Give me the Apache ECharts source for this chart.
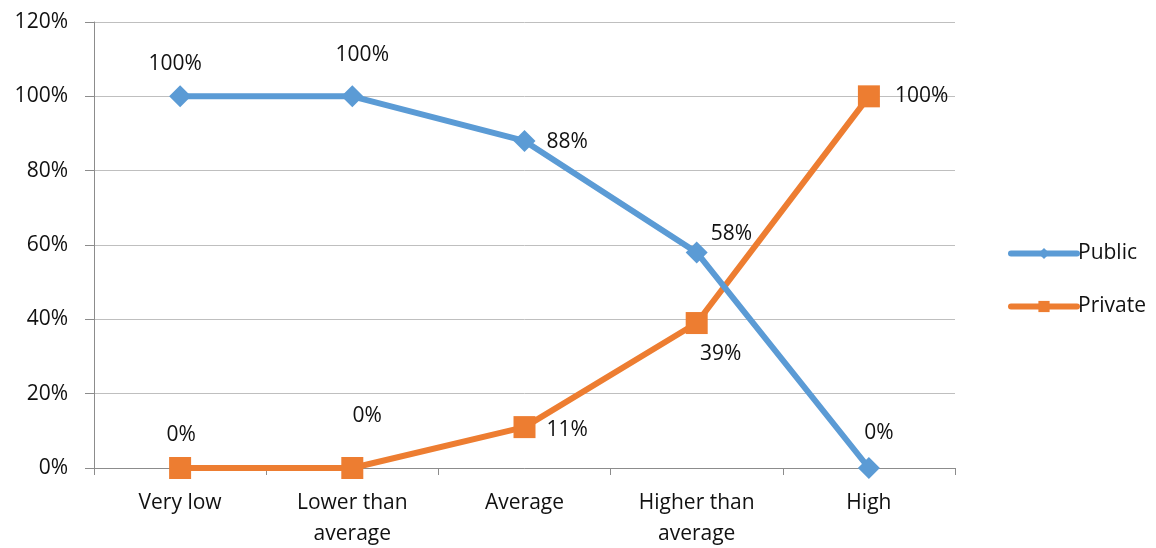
<!DOCTYPE html>
<html>
<head>
<meta charset="utf-8">
<script src="https://cdn.jsdelivr.net/npm/echarts@6/dist/echarts.min.js"></script>
<style>
  html, body { margin: 0; padding: 0; background: #fff; }
  #chart { width: 1156px; height: 548px; }
</style>
</head>
<body>
<div id="chart"></div>
<script>
// Share of respondents by income level, public vs private
const categories = ['Very low', 'Lower than\naverage', 'Average', 'Higher than\naverage', 'High'];
const publicValues = [100, 100, 88, 58, 0];
const privateValues = [0, 0, 11, 39, 100];
const yTicks = [0, 20, 40, 60, 80, 100, 120];

const FONT = 'Open Sans';
const TEXT = '#111111';
const SIZE = 21;

// Per-point label placement
const publicLabelPos = [
  { position: 'top', offset: [-5, -6] },
  { position: 'top', offset: [10, -15] },
  { position: 'right', offset: [6, 1] },
  { position: 'right', offset: [-2, -18] },
  { position: 'top', offset: [10, -8] }
];
const privateLabelPos = [
  { position: 'top', offset: [1, -6] },
  { position: 'top', offset: [15, -25] },
  { position: 'right', offset: [6, 3] },
  { position: 'bottom', offset: [24, 4] },
  { position: 'right', offset: [10, 0] }
];

function buildData(values, pos) {
  return values.map((v, i) => ({
    value: v,
    label: { show: true, position: pos[i].position, offset: pos[i].offset }
  }));
}

const chart = echarts.init(document.getElementById('chart'), null, { renderer: 'canvas' });
chart.setOption({
  animation: false,
  textStyle: { fontFamily: FONT },
  grid: { left: 94, right: 201, top: 22, bottom: 80, containLabel: false, outerBoundsMode: 'none' },
  legend: {
    orient: 'vertical',
    left: 1003,
    top: 238,
    itemWidth: 66,
    itemHeight: 14,
    itemGap: 32,
    lineStyle: { width: 6, cap: 'round' },
    textStyle: { fontFamily: FONT, fontSize: SIZE, color: TEXT, padding: [0, 0, 0, -4] },
    data: ['Public', 'Private']
  },
  xAxis: {
    type: 'category',
    data: categories,
    boundaryGap: true,
    axisLine: { lineStyle: { color: '#8c8c8c', width: 1 } },
    axisTick: { show: true, length: 7, lineStyle: { color: '#8c8c8c' } },
    axisLabel: { fontFamily: FONT, fontSize: SIZE, color: TEXT, margin: 20, lineHeight: 31 }
  },
  yAxis: {
    type: 'value',
    min: yTicks[0],
    max: yTicks[yTicks.length - 1],
    interval: 20,
    axisLine: { show: true, lineStyle: { color: '#8c8c8c', width: 1 } },
    axisTick: { show: true, length: 9, lineStyle: { color: '#8c8c8c' } },
    splitLine: { lineStyle: { color: '#bfbfbf', width: 1 } },
    axisLabel: { fontFamily: FONT, fontSize: SIZE, color: TEXT, margin: 26, formatter: '{value}%' }
  },
  series: [
    {
      name: 'Public',
      type: 'line',
      data: buildData(publicValues, publicLabelPos),
      symbol: 'diamond',
      symbolSize: 22,
      lineStyle: { color: '#5B9BD5', width: 6 },
      itemStyle: { color: '#5B9BD5' },
      label: { fontFamily: FONT, fontSize: SIZE, color: TEXT, formatter: '{c}%' },
      z: 3
    },
    {
      name: 'Private',
      type: 'line',
      data: buildData(privateValues, privateLabelPos),
      symbol: 'rect',
      symbolSize: 22,
      lineStyle: { color: '#ED7D31', width: 6 },
      itemStyle: { color: '#ED7D31' },
      label: { fontFamily: FONT, fontSize: SIZE, color: TEXT, formatter: '{c}%' },
      z: 2
    }
  ]
});
</script>
</body>
</html>
